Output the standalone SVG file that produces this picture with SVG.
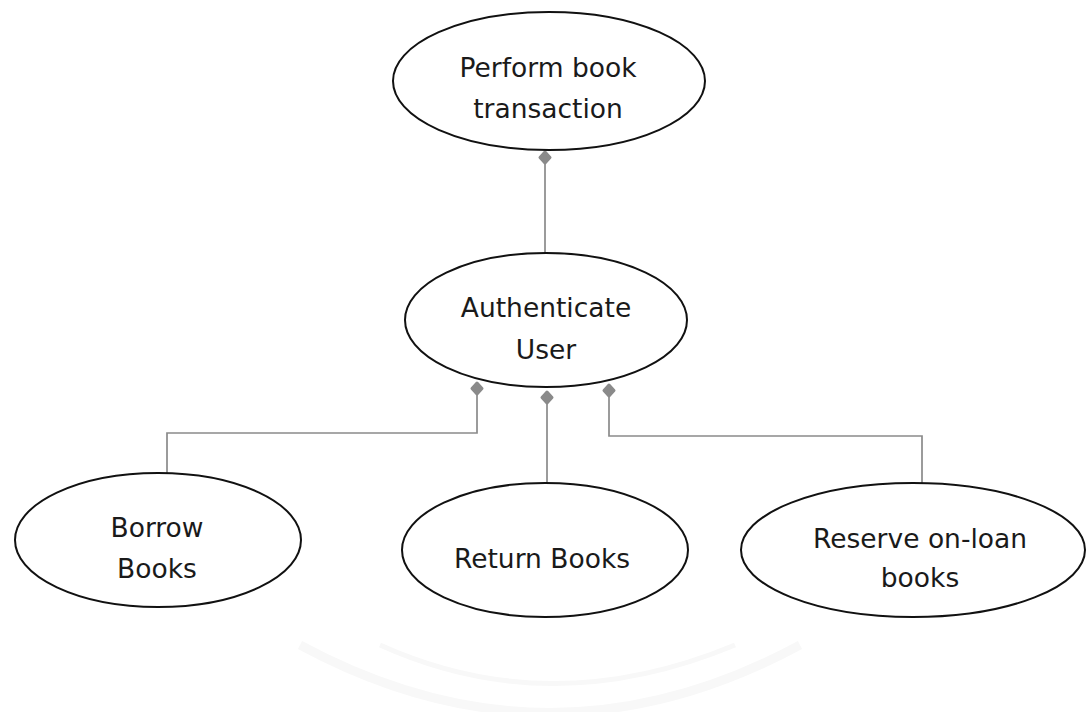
<svg xmlns="http://www.w3.org/2000/svg" width="1088" height="712" viewBox="0 0 1088 712">
<style>
.node ellipse{fill:#fff;stroke:#111;stroke-width:2}
.node text{font-family:"DejaVu Sans","Liberation Sans",sans-serif;font-size:26.5px;fill:#1a1a1a;text-anchor:middle}
.conn .line{fill:none;stroke:#8a8a8a;stroke-width:1.7}
.conn .dot{fill:#8a8a8a;stroke:#8a8a8a;stroke-width:3;stroke-linejoin:round}
.wm{fill:none;stroke:#f8f8f8}
</style>
<rect width="1088" height="712" fill="#fff"/>
<g id="watermark">
<path class="wm" d="M300 645 Q550 780 800 645" stroke-width="9"/>
<path class="wm" d="M380 645 Q550 722 735 645" stroke-width="5"/>
</g>
<g id="connectors" class="conn">
<path class="line" d="M545 163 V253"/>
<path class="line" d="M477 393 V433 H167 V473"/>
<path class="line" d="M547 404 V483"/>
<path class="line" d="M609 397 V436 H922 V483"/>
<path class="dot" d="M545 152 L550 157.5 L545 163 L540 157.5 Z"/>
<path class="dot" d="M477 383 L482 388.5 L477 394 L472 388.5 Z"/>
<path class="dot" d="M547 392 L552 397.5 L547 403 L542 397.5 Z"/>
<path class="dot" d="M609 385 L614 390.5 L609 396 L604 390.5 Z"/>
</g>
<g id="perform" class="node">
<ellipse cx="549" cy="81" rx="156" ry="69"/>
<text x="548" y="77">Perform book</text>
<text x="548" y="118">transaction</text>
</g>
<g id="authenticate" class="node">
<ellipse cx="546" cy="320" rx="141" ry="67"/>
<text x="546" y="317">Authenticate</text>
<text x="546" y="359">User</text>
</g>
<g id="borrow" class="node">
<ellipse cx="158" cy="540" rx="143" ry="67"/>
<text x="157" y="537">Borrow</text>
<text x="157" y="578">Books</text>
</g>
<g id="return" class="node">
<ellipse cx="545" cy="550" rx="143" ry="67"/>
<text x="542" y="568">Return Books</text>
</g>
<g id="reserve" class="node">
<ellipse cx="913" cy="550" rx="172" ry="67"/>
<text x="920" y="548">Reserve on-loan</text>
<text x="920" y="587">books</text>
</g>
</svg>
